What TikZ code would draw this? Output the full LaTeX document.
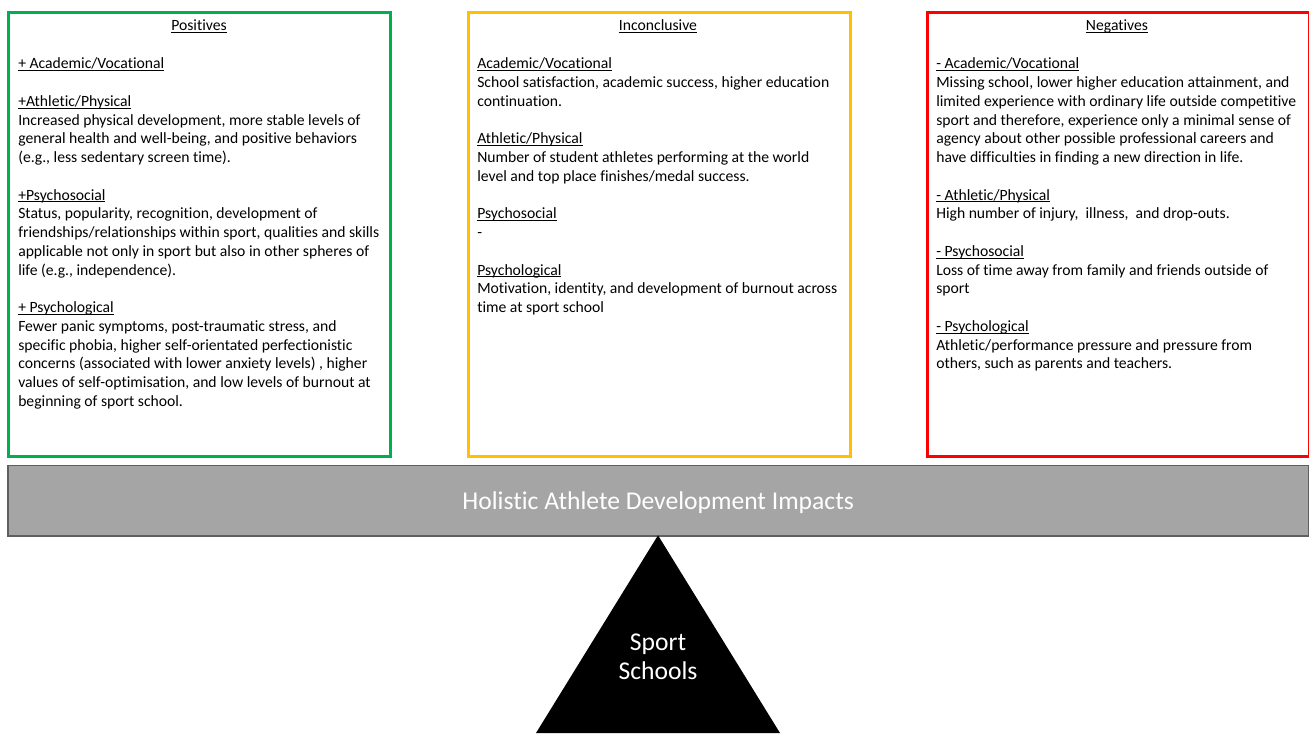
\documentclass[tikz,border=0pt]{standalone}
\usepackage{fontspec}
\setmainfont{Carlito}[Ligatures=NoCommon]
\newsavebox{\ulnbox}
\newcommand{\uline}[1]{\sbox{\ulnbox}{#1}\rlap{\rule[-1.6pt]{\wd\ulnbox}{0.6pt}}\usebox{\ulnbox}}
\definecolor{posgreen}{HTML}{00B050}
\definecolor{incyellow}{HTML}{FFC000}
\definecolor{negred}{HTML}{FF0000}
\definecolor{barfill}{HTML}{A5A5A5}
\definecolor{barline}{HTML}{5F5F5F}
\newlength{\bsk}
\setlength{\bsk}{14.06pt}
\begin{document}
\begin{tikzpicture}[x=0.75pt,y=-0.75pt]
\tikzset{
  framebox/.style={draw=#1, line width=1.9pt, fill=white, rectangle, anchor=north west, inner sep=0pt, minimum width=382*0.75pt, minimum height=443.7*0.75pt},
  titletext/.style={anchor=base, inner sep=0pt, font=\fontsize{11.75}{14.06}\selectfont},
  bodytext/.style={anchor=north west, inner sep=0pt, align=left, font=\fontsize{11.75}{14.06}\selectfont},
  bartext/.style={text=white, inner sep=0pt, font=\fontsize{19.2}{23}\selectfont},
  tritext/.style={text=white, inner sep=0pt, align=center, font=\fontsize{19.2}{21.9}\selectfont},
}
\useasboundingbox (0,0) rectangle (1309,733);
\fill[white] (0,0) rectangle (1309,733);

% boxes
\node[framebox=posgreen] (pos) at (7.4,11.3) {};
\node[framebox=incyellow] (inc) at (467,11.3) {};
\node[framebox=negred] (neg) at (926.3,11.3) {};

% titles
\node[titletext] (postitle) at (199,30.8) {\uline{Positives}};
\node[titletext] (inctitle) at (658,30.8) {\uline{Inconclusive}};
\node[titletext] (negtitle) at (1117,30.8) {\uline{Negatives}};

% bodies
\node[bodytext] (posbody) at (18,55.5) {\strut\uline{+ Academic/Vocational}\\[\bsk]
\uline{+Athletic/Physical}\\
Increased physical development, more stable levels of\\
general health and well-being, and positive behaviors\\
(e.g., less sedentary screen time).\\[\bsk]
\uline{+Psychosocial}\\
Status, popularity, recognition, development of\\
friendships/relationships within sport, qualities and skills\\
applicable not only in sport but also in other spheres of\\
life (e.g., independence).\\[\bsk]
\uline{+ Psychological}\\
Fewer panic symptoms, post-traumatic stress, and\\
specific phobia, higher self-orientated perfectionistic\\
concerns (associated with lower anxiety levels) , higher\\
values of self-optimisation, and low levels of burnout at\\
beginning of sport school.};

\node[bodytext] (incbody) at (477,55.5) {\strut\uline{Academic/Vocational}\\
School satisfaction, academic success, higher education\\
continuation.\\[\bsk]
\uline{Athletic/Physical}\\
Number of student athletes performing at the world\\
level and top place finishes/medal success.\\[\bsk]
\uline{Psychosocial}\\
-\\[\bsk]
\uline{Psychological}\\
Motivation, identity, and development of burnout across\\
time at sport school};

\node[bodytext] (negbody) at (936,55.5) {\strut\uline{- Academic/Vocational}\\
Missing school, lower higher education attainment, and\\
limited experience with ordinary life outside competitive\\
sport and therefore, experience only a minimal sense of\\
agency about other possible professional careers and\\
have difficulties in finding a new direction in life.\\[\bsk]
\uline{- Athletic/Physical}\\
High number of injury,\ \ illness,\ \ and drop-outs.\\[\bsk]
\uline{- Psychosocial}\\
Loss of time away from family and friends outside of\\
sport\\[\bsk]
\uline{- Psychological}\\
Athletic/performance pressure and pressure from\\
others, such as parents and teachers.};

% bar
\node[draw=barline, fill=barfill, line width=0.9pt, rectangle, anchor=north west, inner sep=0pt, minimum width=1300.5*0.75pt, minimum height=70.6*0.75pt] (bar) at (7.3,464.7) {};
\node[bartext] (bartitle) at ([yshift=-1.5pt]bar.center) {Holistic Athlete Development Impacts};

% triangle
\coordinate (apex) at (658,535.3);
\fill[black] (apex) -- (536,733) -- (780,733) -- cycle;
\node[tritext] (tri) at (658,656.5) {Sport\\Schools};
\end{tikzpicture}
\end{document}
